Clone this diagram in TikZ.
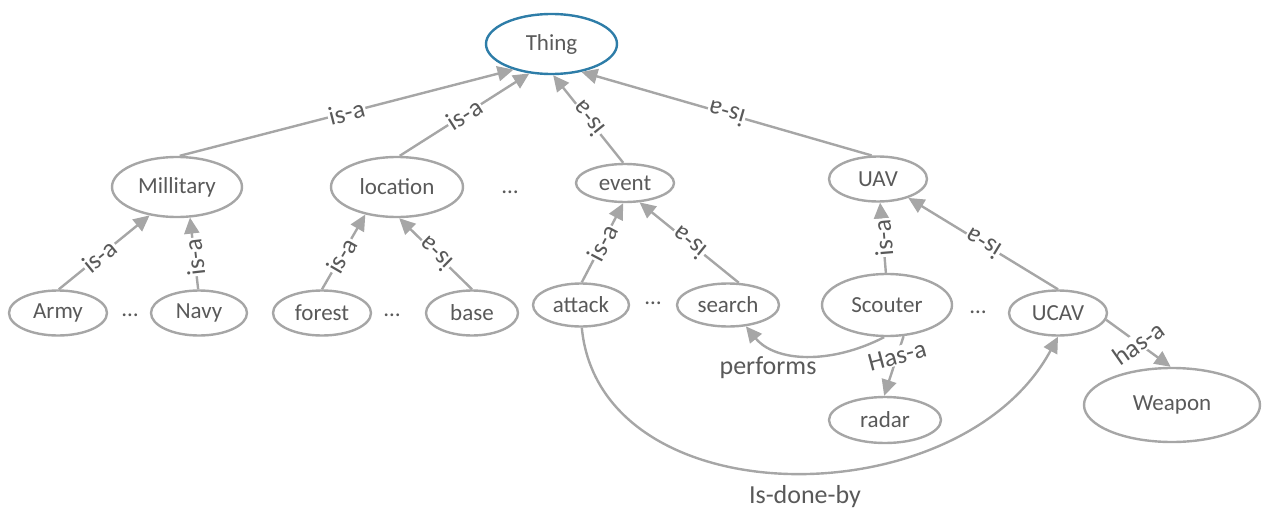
\documentclass[tikz,border=0pt]{standalone}
\usepackage{fontspec}
\setmainfont{Carlito}
\usetikzlibrary{shapes.geometric,arrows.meta}
\definecolor{edgegray}{RGB}{166,166,166}
\definecolor{txtgray}{RGB}{89,89,89}
\definecolor{rootblue}{RGB}{46,125,168}

\begin{document}
\begin{tikzpicture}[x=1pt,y=-1pt,
  concept/.style={ellipse, draw=edgegray, line width=2.4pt, inner sep=0pt,
    text=txtgray, font=\fontsize{23}{23}\selectfont},
  rel/.style={draw=edgegray, line width=2.4pt, -{Triangle[length=16pt,width=15pt]}},
  lbl/.style={fill=white, inner sep=1pt, text=txtgray,
    font=\fontsize{26}{26}\selectfont, sloped, allow upside down},
  freelbl/.style={fill=white, inner sep=1pt, text=txtgray,
    font=\fontsize{26}{26}\selectfont},
  plainlbl/.style={inner sep=0pt, text=txtgray, font=\fontsize{26}{26}\selectfont},
  ellip/.style={inner sep=0pt, text=txtgray, font=\fontsize{23}{23}\selectfont}
]
\useasboundingbox (0,0) rectangle (1263,511);

% concepts
\node[concept, draw=rootblue, minimum width=131pt, minimum height=60pt] (thing) at (551.5,44) {Thing};
\node[concept, minimum width=130pt, minimum height=60pt] (mil) at (177,187) {Millitary};
\node[concept, minimum width=132pt, minimum height=60pt] (loc) at (397,187) {location};
\node[concept, minimum width=98pt, minimum height=38pt] (event) at (625,183) {event};
\node[concept, minimum width=98pt, minimum height=45pt] (uav) at (878,179) {UAV};
\node[concept, minimum width=98pt, minimum height=45pt] (army) at (58,313) {Army};
\node[concept, minimum width=96pt, minimum height=45pt] (navy) at (199,313) {Navy};
\node[concept, minimum width=98pt, minimum height=45pt] (forest) at (322,313) {forest};
\node[concept, minimum width=92pt, minimum height=45pt] (base) at (472,313) {base};
\node[concept, minimum width=96pt, minimum height=43pt] (attack) at (581,305) {attack};
\node[concept, minimum width=102pt, minimum height=43pt] (search) at (728,305) {search};
\node[concept, minimum width=130pt, minimum height=62pt] (scouter) at (887,305) {Scouter};
\node[concept, minimum width=98pt, minimum height=45pt] (ucav) at (1058,313) {UCAV};
\node[concept, minimum width=112pt, minimum height=46pt] (radar) at (885,420) {radar};
\node[concept, minimum width=176pt, minimum height=74pt] (weapon) at (1172,405) {Weapon};

% omitted siblings
\node[ellip] (dotsA) at (130,315) {…};
\node[ellip] (dotsB) at (392,315) {…};
\node[ellip] (dotsC) at (510,192) {…};
\node[ellip] (dotsD) at (653,303) {…};
\node[ellip] (dotsE) at (978,312) {…};

% is-a hierarchy
\draw[rel] (mil.85) -- node[lbl]{is-a} (thing.214);
\draw[rel] (loc.85) -- node[lbl]{is-a} (thing.233);
\draw[rel] (event.95) -- node[lbl]{is-a} (thing.273);
\draw[rel] (uav.105) -- node[lbl]{is-a} (thing.317);
\draw[rel] (army.88) -- node[lbl,pos=0.45]{is-a} (mil.226);
\draw[rel] (navy.92) -- node[lbl,pos=0.45]{is-a} (mil.293);
\draw[rel] (forest.90) -- node[lbl,pos=0.45]{is-a} (loc.221);
\draw[rel] (base.90) -- node[lbl]{is-a} (loc.274);
\draw[rel] (attack.88) -- node[lbl]{is-a} (event.265);
\draw[rel] (search.64) -- node[lbl]{is-a} (event.307);
\draw[rel] (scouter.92) -- node[lbl]{is-a} (uav.275);
\draw[rel] (ucav.90) -- node[lbl]{is-a} (uav.328);

% other relations
\draw[rel] (scouter.265) .. controls (830,365) and (775,362) .. (search.-50);
\node[plainlbl] (performs) at (768,368) {performs};
\draw[rel] (scouter.-62) -- node[freelbl, pos=0.33, rotate=15]{Has-a} (radar.92);
\draw[rel] (ucav.-8) -- node[freelbl, pos=0.5, rotate=35]{has-a} (weapon.92);
\draw[rel] (attack.272) .. controls (600,519) and (960,519) .. (ucav.south);
\node[plainlbl] (donebyLbl) at (805,497) {Is-done-by};
\end{tikzpicture}
\end{document}
